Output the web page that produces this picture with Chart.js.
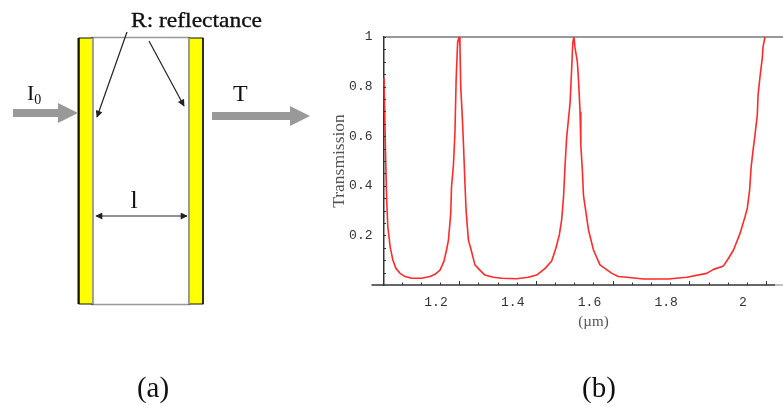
<!DOCTYPE html>
<html>
<head>
<meta charset="utf-8">
<title>Transmission</title>
<script src="https://cdn.jsdelivr.net/npm/chart.js@4"></script>
<style>
  html, body { margin: 0; padding: 0; background: #fff; overflow: hidden; }
  #wrap { position: relative; width: 783px; height: 405px; }
  #wrap canvas, #wrap svg { position: absolute; left: 0; top: 0; }
  svg text { font-family: "Liberation Serif", serif; fill: #111; }
</style>
</head>
<body>
<div id="wrap">
  <canvas id="chart" width="783" height="405"></canvas>
  <!-- panel (a), the cavity sketch, plus the two captions -->
  <svg width="783" height="405" viewBox="0 0 783 405">
    <defs>
      <marker id="head" viewBox="0 0 10 10" refX="9" refY="5" markerWidth="11" markerHeight="7" orient="auto-start-reverse" markerUnits="userSpaceOnUse">
        <path d="M0 0 L10 5 L0 10 Z" fill="#222"></path>
      </marker>
    </defs>
    <rect x="92" y="37.5" width="97" height="267" fill="#fff" stroke="#999" stroke-width="1.5"></rect>
    <rect x="79" y="38" width="14" height="266" fill="#ff0" stroke="#111" stroke-width="1"></rect>
    <rect x="189" y="38" width="14" height="266" fill="#ff0" stroke="#111" stroke-width="1"></rect>
    <line x1="78.5" y1="38" x2="78.5" y2="304" stroke="#111" stroke-width="2"></line>
    <line x1="203" y1="38" x2="203" y2="304" stroke="#111" stroke-width="1.5"></line>
    <line x1="93" y1="38" x2="93" y2="304" stroke="#aaa" stroke-width="1.5"></line>
    <line x1="189" y1="38" x2="189" y2="304" stroke="#aaa" stroke-width="1.5"></line>
    <path d="M13 109 H58 V103 L78 113 L58 123 V117 H13 Z" fill="#999"></path>
    <path d="M212 112 H290 V106 L310 116 L290 126 V120 H212 Z" fill="#999"></path>
    <line x1="127" y1="32" x2="97" y2="117" stroke="#222" stroke-width="1.2" marker-end="url(#head)"></line>
    <line x1="149" y1="41" x2="184" y2="106" stroke="#222" stroke-width="1.2" marker-end="url(#head)"></line>
    <line x1="96" y1="216" x2="187" y2="216" stroke="#222" stroke-width="1.2" marker-start="url(#head)" marker-end="url(#head)"></line>
    <text x="131" y="27" font-size="21" stroke="#111" stroke-width="0.35" textLength="131" lengthAdjust="spacingAndGlyphs">R: reflectance</text>
    <text x="27" y="100" font-size="22">I<tspan font-size="14" dy="4">0</tspan></text>
    <text x="233" y="101" font-size="24">T</text>
    <text x="134" y="208" font-size="26" text-anchor="middle">l</text>
    <text x="153" y="397" font-size="29" text-anchor="middle">(a)</text>
    <text x="599" y="397" font-size="29" text-anchor="middle">(b)</text>
  </svg>
</div>
<script>
// x in um, y is transmission
const wavelength = [
  1.054, 1.058, 1.061, 1.064, 1.070, 1.077, 1.085, 1.096, 1.109, 1.126,
  1.152, 1.174, 1.187, 1.200, 1.210, 1.217, 1.222, 1.228, 1.230, 1.235,
  1.239, 1.242, 1.246, 1.250, 1.252, 1.254, 1.258, 1.261, 1.265, 1.268,
  1.274, 1.280, 1.291, 1.304, 1.317, 1.339, 1.361, 1.400, 1.430, 1.452,
  1.474, 1.491, 1.502, 1.511, 1.517, 1.522, 1.526, 1.530, 1.539, 1.543,
  1.546, 1.549, 1.552, 1.558, 1.561, 1.565, 1.567, 1.571, 1.574, 1.587,
  1.600, 1.617, 1.648, 1.665, 1.687, 1.730, 1.795, 1.843, 1.895, 1.913,
  1.939, 1.952, 1.965, 1.982, 1.995, 2.001, 2.007, 2.011, 2.016, 2.021,
  2.027, 2.029, 2.034, 2.040, 2.042, 2.047
];
const transmission = [
  0.835, 0.530, 0.343, 0.235, 0.154, 0.101, 0.067, 0.047, 0.034, 0.027,
  0.027, 0.034, 0.043, 0.060, 0.094, 0.141, 0.181, 0.290, 0.396, 0.484,
  0.618, 0.827, 0.981, 1.000, 0.961, 0.800, 0.680, 0.573, 0.411, 0.300,
  0.181, 0.148, 0.081, 0.060, 0.040, 0.031, 0.027, 0.025, 0.031, 0.040,
  0.067, 0.097, 0.148, 0.202, 0.262, 0.356, 0.484, 0.593, 0.734, 0.867,
  0.976, 1.000, 0.956, 0.900, 0.827, 0.699, 0.565, 0.464, 0.360, 0.222,
  0.141, 0.081, 0.047, 0.034, 0.031, 0.024, 0.024, 0.031, 0.047, 0.063,
  0.077, 0.108, 0.141, 0.208, 0.275, 0.310, 0.383, 0.476, 0.544, 0.605,
  0.685, 0.766, 0.839, 0.915, 0.960, 1.000
];

// tick marks every 0.05, only some get a label
const xTicks = [1.1, 1.15, 1.2, 1.25, 1.3, 1.35, 1.4, 1.45, 1.5, 1.55, 1.6, 1.65, 1.7, 1.75, 1.8, 1.85, 1.9, 1.95, 2, 2.05];
const xLabels = [1.2, 1.4, 1.6, 1.8, 2];
const xTallTicks = [1.25, 1.45, 1.65, 1.85, 2.05];
const yTicks = [0.05, 0.1, 0.15, 0.2, 0.25, 0.3, 0.35, 0.4, 0.45, 0.5, 0.55, 0.6, 0.65, 0.7, 0.75, 0.8, 0.85, 0.9, 0.95, 1];
const yLabels = [0.2, 0.4, 0.6, 0.8, 1];

const tickFont = { family: '"Liberation Mono", monospace', size: 13 };

// chart.js ticks only go outwards, these ones sit inside the plot like in the picture
const innerTicks = {
  id: 'innerTicks',
  afterDatasetsDraw(chart) {
    const { ctx, chartArea: a, scales: { x, y } } = chart;
    ctx.save();
    ctx.strokeStyle = '#333';
    ctx.lineWidth = 1;
    ctx.beginPath();
    xTicks.forEach(v => {
      const px = Math.round(x.getPixelForValue(v)) + 0.5;
      const len = xTallTicks.includes(v) ? 4 : 2.5;
      ctx.moveTo(px, a.bottom);
      ctx.lineTo(px, a.bottom - len);
    });
    yTicks.forEach(v => {
      const py = Math.round(y.getPixelForValue(v)) + 0.5;
      ctx.moveTo(a.left, py);
      ctx.lineTo(a.left + 2.5, py);
    });
    ctx.stroke();

    // the x axis runs on a bit past the y axis on the left
    ctx.lineWidth = 1.5;
    ctx.beginPath();
    ctx.moveTo(a.left - 12, a.bottom);
    ctx.lineTo(a.right - 8, a.bottom);
    ctx.stroke();
    ctx.strokeStyle = '#aaa';
    ctx.beginPath();
    ctx.moveTo(a.right - 8, a.bottom);
    ctx.lineTo(a.right, a.bottom);
    ctx.stroke();

    // unit sits under the 1.6 label, not centred on the axis
    ctx.fillStyle = '#555';
    ctx.font = '15px "Liberation Serif", serif';
    ctx.textAlign = 'center';
    ctx.textBaseline = 'middle';
    ctx.fillText('(\u00b5m)', x.getPixelForValue(1.6), 322);
    ctx.restore();
  }
};

new Chart(document.getElementById('chart').getContext('2d'), {
  type: 'line',
  data: {
    labels: wavelength,
    datasets: [{
      label: 'Transmission',
      data: wavelength.map((w, i) => ({ x: w, y: transmission[i] })),
      borderColor: '#ff2a2a',
      borderWidth: 1.6,
      borderJoinStyle: 'bevel',
      pointRadius: 0,
      tension: 0,
      clip: false
    }]
  },
  plugins: [innerTicks],
  options: {
    responsive: false,
    animation: false,
    layout: { padding: { left: 323.5, top: 37, right: 0, bottom: 0 } },
    plugins: { legend: { display: false }, tooltip: { enabled: false } },
    scales: {
      x: {
        type: 'linear',
        min: 1.0527,
        max: 2.094,
        afterFit: s => { s.height = 120; },
        afterBuildTicks: s => { s.ticks = xTicks.map(v => ({ value: v })); },
        border: { display: false },
        grid: { display: false, drawTicks: false },
        ticks: {
          autoSkip: false,
          maxRotation: 0,
          padding: 10,
          labelOffset: -4,
          color: '#333',
          font: tickFont,
          callback: v => xLabels.includes(v) ? String(v) : ''
        }
      },
      y: {
        min: 0,
        max: 1,
        afterFit: s => { s.width = 60; },
        afterBuildTicks: s => { s.ticks = yTicks.map(v => ({ value: v })); },
        border: { color: '#333', width: 1.5 },
        grid: {
          drawTicks: false,
          lineWidth: 2,
          color: c => c.tick && c.tick.value === 1 ? '#999' : 'transparent'
        },
        title: {
          display: true,
          text: 'Transmission',
          color: '#555',
          padding: { top: 5, bottom: 0 },
          font: { family: '"Liberation Serif", serif', size: 17.5 }
        },
        ticks: {
          autoSkip: false,
          padding: 11,
          color: '#333',
          font: tickFont,
          callback: v => yLabels.includes(v) ? String(v) : ''
        }
      }
    }
  }
});
</script>
</body>
</html>
